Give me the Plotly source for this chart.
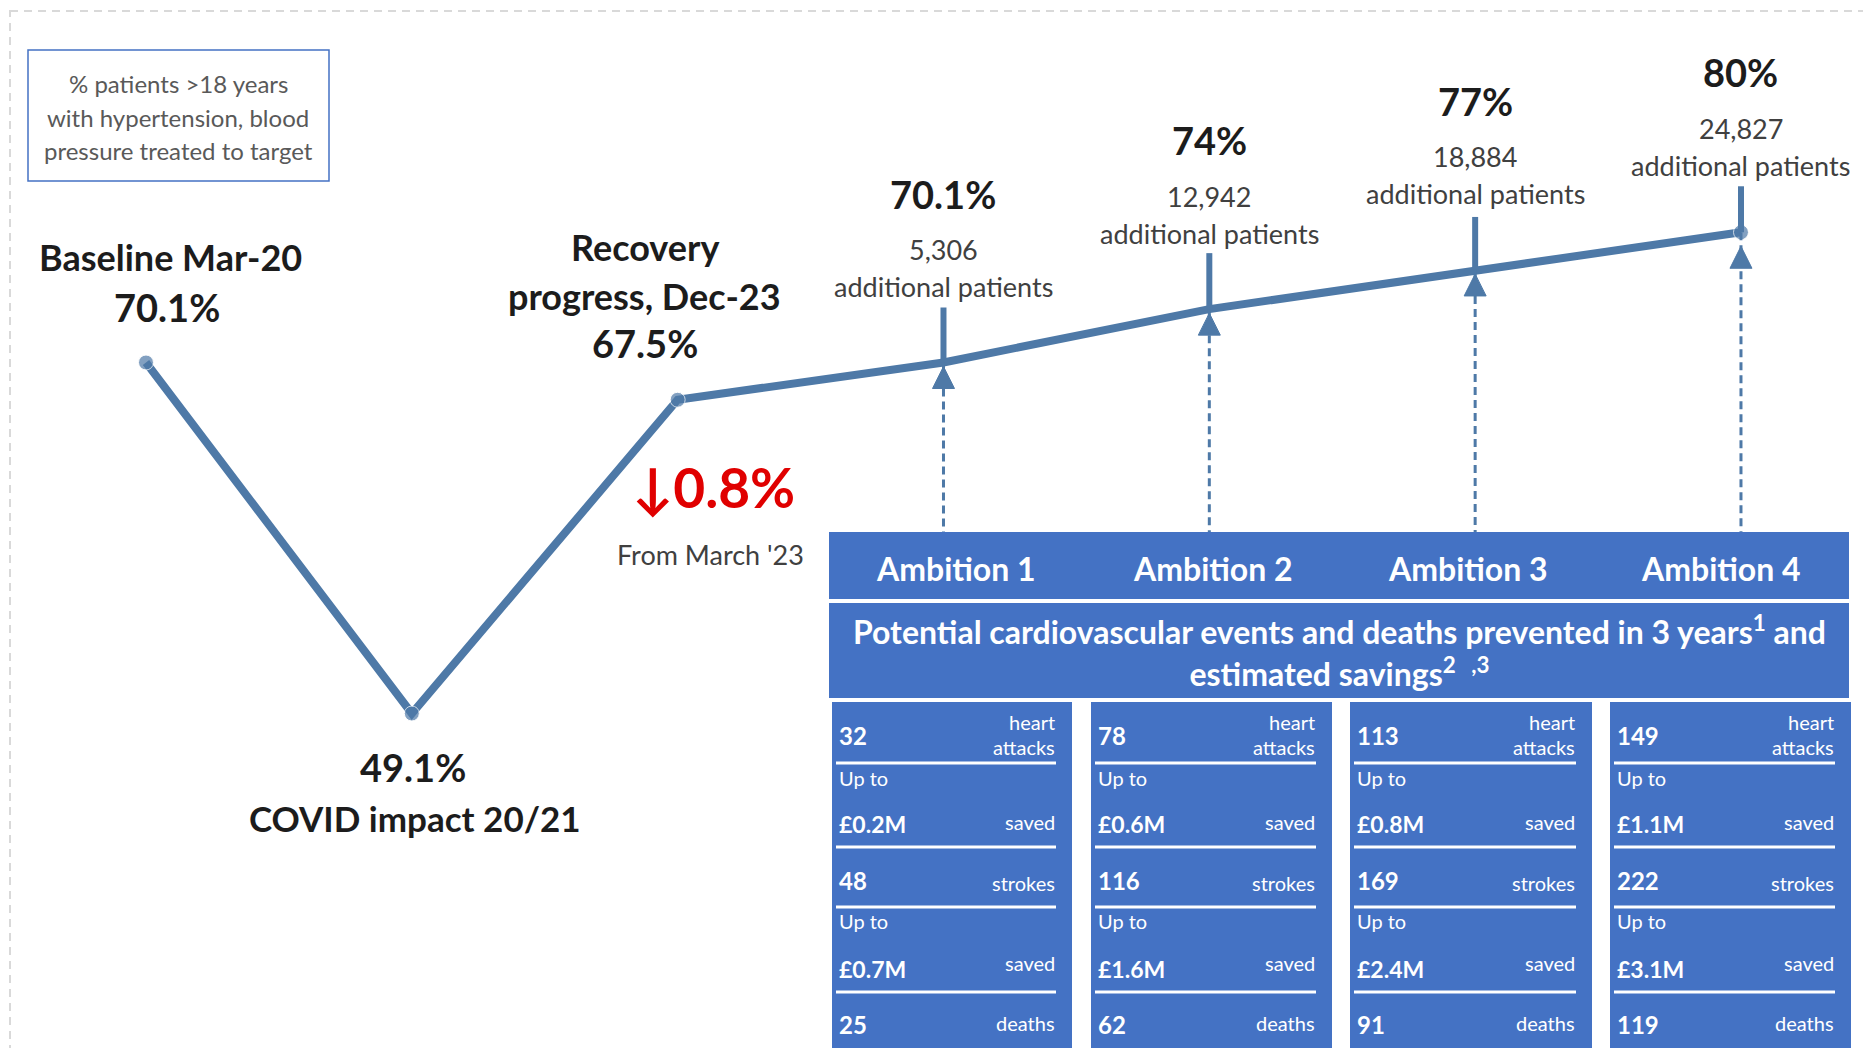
import math
import plotly.graph_objects as go

# ---------------- data ----------------
stages = ["Baseline Mar-20", "COVID impact 20/21", "Recovery progress, Dec-23",
          "Ambition 1", "Ambition 2", "Ambition 3", "Ambition 4"]
values = [70.1, 49.1, 67.5, 70.1, 74, 77, 80]
additional_patients = [5306, 12942, 18884, 24827]
ambitions = ["Ambition 1", "Ambition 2", "Ambition 3", "Ambition 4"]
heart_attacks = [32, 78, 113, 149]
heart_attack_savings = ["£0.2M", "£0.6M", "£0.8M", "£1.1M"]
strokes = [48, 116, 169, 222]
stroke_savings = ["£0.7M", "£1.6M", "£2.4M", "£3.1M"]
deaths = [25, 62, 91, 119]
change_since_march = "0.8%"

# ---------------- style / layout ----------------
W, H = 1863, 1048
LINE = "#4e79a7"
BAND = "#4472c4"
DARK = "#1c1c1c"
GREY = "#404040"
FONT = "Lato"
x_range = [-0.5492, 6.459]
y_range = [1.54374, 2.00541]   # log10 range

col_left = [832, 1091, 1350, 1610]
col_right = [1072, 1332, 1592, 1851]
amb_label_x = [956, 1213, 1468, 1721]
tick_len = [55, 56, 53, 46]
head_gap = [4, 4, 4, 14]


def PX(x):
    return x / W


def PY(y):
    return 1 - y / H


def fmt_pct(v):
    return f"{v:g}%"


xs = list(range(len(values)))
fig = go.Figure()
fig.add_trace(go.Scatter(
    x=xs, y=values, mode="lines+markers",
    line=dict(color=LINE, width=8),
    marker=dict(color=LINE, size=[15, 15, 15, 0, 0, 0, 15]),
    hoverinfo="skip", showlegend=False,
))
# dashed guides from each ambition point down to the table
y_floor = 10 ** y_range[0]
for k in range(4):
    idx = 3 + k
    fig.add_trace(go.Scatter(
        x=[idx, idx], y=[values[idx], y_floor], mode="lines",
        line=dict(color=LINE, width=3, dash="8px,5px"),
        hoverinfo="skip", showlegend=False,
    ))

shapes = []
annotations = []


def text(t, x, y, size, color=DARK, bold=False, xanchor="center", xref="paper", yref="paper",
         xshift=0, yshift=0):
    if bold:
        t = f"<b>{t}</b>"
    annotations.append(dict(
        text=t, x=x, y=y, xref=xref, yref=yref, xanchor=xanchor, yanchor="middle",
        showarrow=False, xshift=xshift, yshift=yshift,
        font=dict(family=FONT, size=size, color=color),
    ))


# outer dashed frame
shapes.append(dict(type="rect", xref="paper", yref="paper",
                   x0=PX(10), x1=PX(1920), y0=PY(11), y1=PY(1100),
                   line=dict(color="#d9d9d9", width=2, dash="8px,6px")))
# legend box
shapes.append(dict(type="rect", xref="paper", yref="paper",
                   x0=PX(28), x1=PX(329), y0=PY(50), y1=PY(181),
                   line=dict(color=BAND, width=1.5)))
for i, line_txt in enumerate(["% patients >18 years", "with hypertension, blood",
                              "pressure treated to target"]):
    text(line_txt, PX(178), PY(84 + 33.5 * i), 24, color="#595959")

# ambition markers: ticks above, arrow heads below
for k in range(4):
    idx = 3 + k
    v = values[idx]
    shapes.append(dict(type="line", xref="x", yref="y", x0=idx, x1=idx,
                       ysizemode="pixel", yanchor=v, y0=0, y1=tick_len[k],
                       line=dict(color=LINE, width=6)))
    g = head_gap[k]
    shapes.append(dict(type="path", xref="x", yref="y",
                       xsizemode="pixel", xanchor=idx, ysizemode="pixel", yanchor=v,
                       path=f"M -11 {-(g + 22)} L 11 {-(g + 22)} L 0 {-g} Z",
                       fillcolor=LINE, line=dict(color=LINE, width=1)))

# blue bands and column boxes
shapes.append(dict(type="rect", xref="paper", yref="paper", x0=PX(829), x1=PX(1849),
                   y0=PY(532), y1=PY(599), fillcolor=BAND, line=dict(width=0)))
shapes.append(dict(type="rect", xref="paper", yref="paper", x0=PX(829), x1=PX(1849),
                   y0=PY(603), y1=PY(698), fillcolor=BAND, line=dict(width=0)))
for gy0, gy1 in [(599, 603), (698, 702)]:
    shapes.append(dict(type="rect", xref="paper", yref="paper", x0=PX(820), x1=PX(1860),
                       y0=PY(gy0), y1=PY(gy1), fillcolor="white", line=dict(width=0)))
for k in range(4):
    L, R = col_left[k], col_right[k]
    shapes.append(dict(type="rect", xref="paper", yref="paper", x0=PX(L), x1=PX(R),
                       y0=PY(702), y1=PY(1060), fillcolor=BAND, line=dict(width=0)))
    for sy in [763, 847, 907, 992]:
        shapes.append(dict(type="line", xref="paper", yref="paper", x0=PX(L + 4), x1=PX(R - 16),
                           y0=PY(sy), y1=PY(sy), line=dict(color="white", width=3)))

    def lt(t, y, size, bold=False):
        text(t, PX(L + 5), PY(y), size, color="white", bold=bold, xanchor="left")

    def rt(t, y, size=20):
        text(t, PX(R - 15), PY(y), size, color="white", xanchor="right")

    lt(str(heart_attacks[k]), 735, 24, True)
    rt("heart", 722)
    rt("attacks", 747)
    lt("Up to", 778, 20)
    lt(heart_attack_savings[k], 824, 23, True)
    rt("saved", 822)
    lt(str(strokes[k]), 880, 24, True)
    rt("strokes", 883)
    lt("Up to", 921, 20)
    lt(stroke_savings[k], 969, 23, True)
    rt("saved", 963)
    lt(str(deaths[k]), 1024, 24, True)
    rt("deaths", 1023)

    text(ambitions[k], PX(amb_label_x[k]), PY(568), 32, color="white", bold=True)

text("Potential cardiovascular events and deaths prevented in 3 years<sup>1</sup> and<br>"
     "estimated savings<sup>2</sup>  <sup>,3</sup>",
     PX(1339), PY(651), 32, color="white", bold=True)


# stage labels anchored to the data points
def at_point(t, idx, dx, dy, size, bold=True, color=DARK):
    text(t, idx, math.log10(values[idx]), size, color=color, bold=bold,
         xref="x", yref="y", xshift=dx, yshift=-dy)


at_point("Baseline Mar-20", 0, 25, -106, 36)
at_point(fmt_pct(values[0]), 0, 21, -56, 38)
at_point("Recovery", 2, -33, -153, 36)
at_point("progress, Dec-23", 2, -33, -104, 36)
at_point(fmt_pct(values[2]), 2, -33, -57, 38)
at_point(fmt_pct(values[1]), 1, 1, 53, 38)
at_point("COVID impact 20/21", 1, 3, 104, 35)

for k in range(4):
    idx = 3 + k
    off = 0 if k < 3 else 9
    at_point(fmt_pct(values[idx]), idx, 0, -169 + off, 38)
    at_point(f"{additional_patients[k]:,}", idx, 0, -113 + off, 27, bold=False, color=GREY)
    at_point("additional patients", idx, 0, -76 + off, 27, bold=False, color=GREY)

text("↓" + change_since_march, PX(713), PY(487), 55, color="#e00000", bold=True)
text("From March '23", PX(710), PY(554), 27, color=GREY)

fig.update_layout(
    width=W, height=H, margin=dict(l=0, r=0, t=0, b=0),
    paper_bgcolor="white", plot_bgcolor="white",
    xaxis=dict(range=x_range, visible=False, fixedrange=True),
    yaxis=dict(type="log", range=y_range, visible=False, fixedrange=True),
    shapes=shapes, annotations=annotations, showlegend=False,
    font=dict(family=FONT),
)

fig.write_html("out.html", config={"displayModeBar": False},
               post_script="document.body.style.margin='0px';document.body.style.overflow='hidden';")
